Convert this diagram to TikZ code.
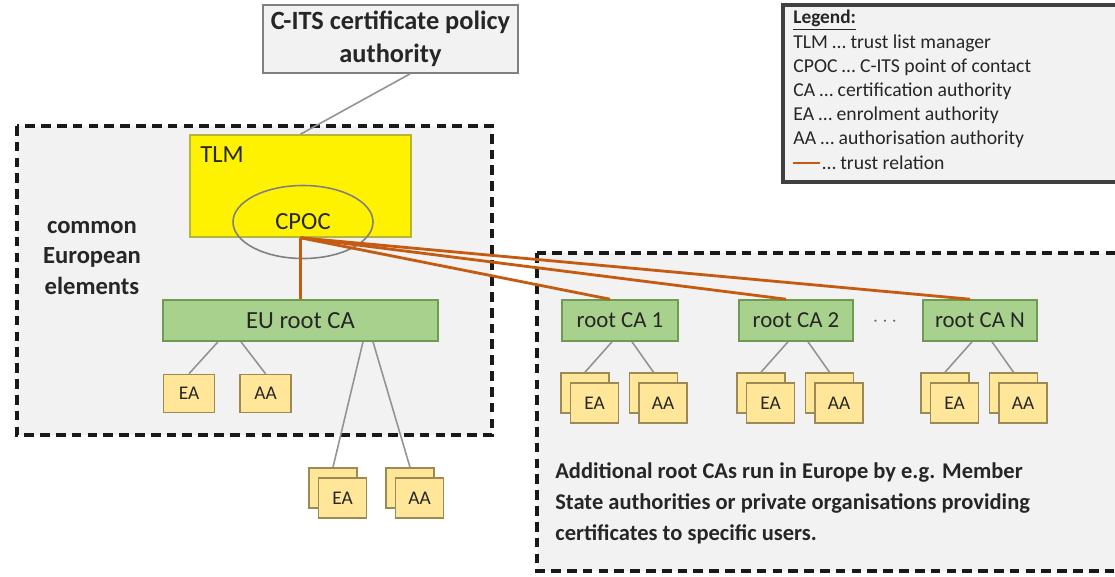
\documentclass[tikz,border=0pt]{standalone}
\usepackage{fontspec}
\setmainfont{Carlito}
\usetikzlibrary{shapes.geometric,shadows}
\definecolor{trustorange}{HTML}{C55A11}
\definecolor{boxgray}{HTML}{F2F2F2}
\definecolor{cagreen}{HTML}{A9D18E}
\definecolor{cagreenline}{HTML}{6E9A52}
\definecolor{leafyellow}{HTML}{FFE699}
\definecolor{leafline}{HTML}{9C8A55}
\definecolor{tlmline}{HTML}{B5B53A}
\begin{document}
\begin{tikzpicture}[x=0.2mm, y=-0.2mm,
  every node/.style={font=\fontsize{13}{15}\selectfont, inner sep=0pt, text=black!85},
  region/.style={draw=black!90, fill=boxgray, line width=2pt, dash pattern=on 5.5pt off 3.5pt},
  cabox/.style={draw=cagreenline, fill=cagreen, line width=0.9pt, minimum height=8.2mm},
  leafbox/.style={draw=leafline, fill=leafyellow, line width=0.9pt, minimum width=10.2mm, minimum height=7.6mm, font=\fontsize{11}{13}\selectfont},
  leafstack/.style={leafbox, minimum width=9.6mm, minimum height=8mm, copy shadow={shadow xshift=-1.9mm, shadow yshift=2mm}},
  conn/.style={draw=gray!85, line width=0.9pt},
  trust/.style={draw=trustorange, line width=1.6pt}]
  \useasboundingbox (0,0) rectangle (1115,576);
  % the two regions
  \draw[region] (17,126) rectangle (492,435);
  \draw[region] (537,253) rectangle (1117,571);
  \draw[line width=1.8pt, draw=black!75, fill=boxgray] (783,5) rectangle (1117,182);
  % common European elements
  \node[draw=gray, fill=boxgray, line width=1pt, minimum width=51mm, minimum height=13.6mm, align=center,
        font=\bfseries\fontsize{15}{19}\selectfont] (policy) at (390.5,39) {C-ITS certificate policy\\authority};
  \node[draw=tlmline, fill=yellow, line width=0.9pt, minimum width=44.2mm, minimum height=20.4mm] (tlm) at (300.5,186) {};
  \node[anchor=west, font=\fontsize{14}{16}\selectfont] (tlmlabel) at (200,155) {TLM};
  \node[ellipse, draw=gray, line width=0.9pt, minimum width=28mm, minimum height=14.6mm,
        font=\fontsize{14}{16}\selectfont] (cpoc) at (303,222) {CPOC};
  \node[align=center, font=\bfseries\fontsize{14}{17.4}\selectfont] (common) at (92,258) {common\\European\\elements};
  \node[cabox, minimum width=55mm, font=\fontsize{14}{16}\selectfont] (euroot) at (300.5,320.5) {EU root CA};
  \node[leafbox] (ea-0) at (189,393.5) {EA};
  \node[leafbox] (aa-0) at (265.5,393.5) {AA};
  \node[leafstack] (ea-eu) at (342.5,498) {EA};
  \node[leafstack] (aa-eu) at (419.5,498) {AA};
  % additional root CAs
  \foreach \ca/\x/\w in {1/620/23.2mm, 2/796/22.8mm, N/980/22.8mm} {
    \node[cabox, minimum width=\w] (rootca-\ca) at (\x,320.5) {root CA \ca};
    \node[leafstack] (ea-\ca) at (\x-25.5,403) {EA};
    \node[leafstack] (aa-\ca) at (\x+43,403) {AA};
  }
  \node[text=black!60] (dots) at (885,322) {$\cdots$};
  \node[anchor=west, align=left, font=\bfseries\fontsize{12.8}{17.6}\selectfont] (note) at (555,503)
    {Additional root CAs run in Europe by e.g. Member\\State authorities or private organisations providing\\certificates to specific users.};
  % connectors
  \draw[conn] ([xshift=3.9mm]policy.south) -- (tlm.north);
  \draw[trust] (tlm.south) -- (euroot.north);
  \foreach \ca in {1,2,N}
    \draw[trust] (tlm.south) -- ([xshift=-2mm]rootca-\ca.north);
  \draw[conn] ([xshift=-16.5mm]euroot.south) -- (ea-0.north);
  \draw[conn] ([xshift=-11.9mm]euroot.south) -- (aa-0.north);
  \draw[conn] ([xshift=12.5mm]euroot.south) -- ([xshift=-1.9mm, yshift=2mm]ea-eu.north);
  \draw[conn] ([xshift=14.5mm]euroot.south) -- ([xshift=-1.9mm, yshift=2mm]aa-eu.north);
  \foreach \ca in {1,2,N} {
    \draw[conn] ([xshift=-1.6mm]rootca-\ca.south) -- ([xshift=-1.9mm, yshift=2mm]ea-\ca.north);
    \draw[conn] ([xshift=2.4mm]rootca-\ca.south) -- ([xshift=-1.9mm, yshift=2mm]aa-\ca.north);
  }
  % legend
  \node[anchor=west, font=\bfseries\fontsize{11}{13}\selectfont] (legend) at (793,20) {\underline{Legend:}};
  \foreach \txt [count=\i] in {TLM … trust list manager, CPOC … C-ITS point of contact,
      CA … certification authority, EA … enrolment authority, AA … authorisation authority}
    \node[anchor=west, font=\fontsize{11.2}{13}\selectfont] (leg-\i) at (793,20+23.8*\i) {\txt};
  \coordinate (leg-a) at (793,163);
  \coordinate (leg-b) at (820,163);
  \draw[trust] (leg-a) -- (leg-b);
  \node[anchor=west, font=\fontsize{11.2}{13}\selectfont] (leg-trust) at ([xshift=0.4mm]leg-b) {… trust relation};
\end{tikzpicture}
\end{document}
